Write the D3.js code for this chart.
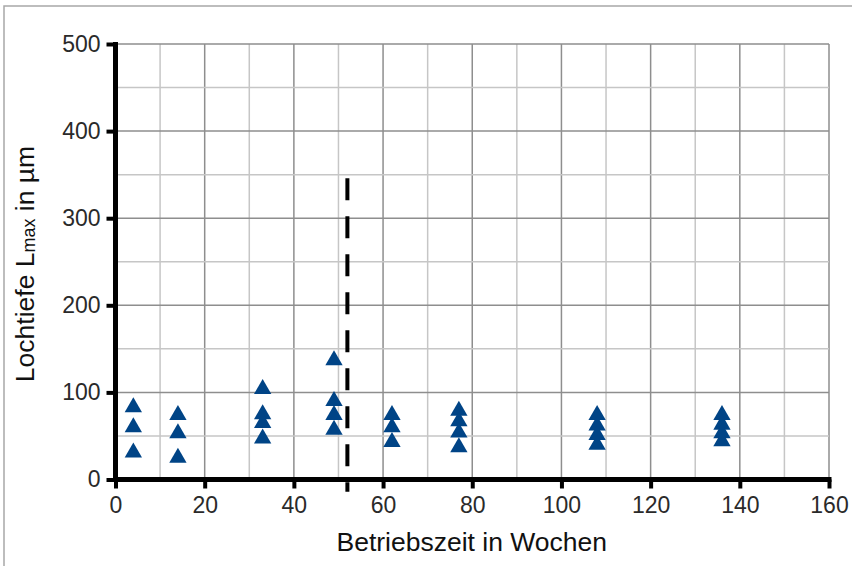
<!DOCTYPE html>
<html>
<head>
<meta charset="utf-8">
<script src="https://cdn.jsdelivr.net/npm/d3@7"></script>
<style>
  body { margin: 0; background: #fff; }
  svg { display: block; }
  .tick-label { font-family: "Liberation Sans", Arial, sans-serif; font-size: 23px; fill: #2a2a2a; }
  .axis-title { font-family: "Liberation Sans", Arial, sans-serif; font-size: 26.5px; fill: #111; }
</style>
</head>
<body>
<svg class="chart_svg" width="852" height="566"></svg>
<script>
// Betriebszeit (Wochen) und gemessene Lochtiefen je Messzeitpunkt
const weeks = [4, 14, 33, 49, 62, 77, 108, 136]
const depths = [
    [83, 60, 31],
    [74, 53, 25],
    [104, 75, 65, 47],
    [137, 90, 74, 57],
    [74, 60, 43],
    [79, 67, 54, 37],
    [74, 62, 51, 40],
    [74, 63, 53, 44]
]
const xTicks = [0, 20, 40, 60, 80, 100, 120, 140, 160]
const yTicks = [0, 100, 200, 300, 400, 500]
const markerWeek = 52
const markerRange = [-14, 346]

const chartWidth = 852
const chartHeight = 566
const margin = {top: 44, right: 23, bottom: 86.5, left: 115.5}
const width = chartWidth - margin.left - margin.right
const height = chartHeight - margin.top - margin.bottom

const svg = d3.select(".chart_svg")

// outer frame (only top and left edge visible in the original)
svg.append("path")
    .attr("d", `M4,566 V6 H852`)
    .attr("fill", "none")
    .attr("stroke", "#a8a8a8")
    .attr("stroke-width", 1.5)

const g = svg.append("g")
    .attr("transform", `translate(${margin.left}, ${margin.top})`)

const x = d3.scaleLinear().domain([0, 160]).range([0, width])
const y = d3.scaleLinear().domain([0, 500]).range([height, 0])

// grid lines
const xGrid = d3.range(10, 161, 10)
const yGrid = d3.range(50, 501, 50)

g.selectAll(".vgrid")
    .data(xGrid)
    .enter()
    .append("line")
    .attr("x1", d => x(d)).attr("x2", d => x(d))
    .attr("y1", 0).attr("y2", height)
    .attr("stroke", d => d % 20 === 0 ? "#8e8e8e" : "#c6c6c6")
    .attr("stroke-width", 1.5)

g.selectAll(".hgrid")
    .data(yGrid)
    .enter()
    .append("line")
    .attr("x1", 0).attr("x2", width)
    .attr("y1", d => y(d)).attr("y2", d => y(d))
    .attr("stroke", d => d % 100 === 0 ? "#8e8e8e" : "#c6c6c6")
    .attr("stroke-width", 1.5)

// dashed marker at 52 weeks
g.append("line")
    .attr("x1", x(markerWeek)).attr("x2", x(markerWeek))
    .attr("y1", y(markerRange[1])).attr("y2", y(markerRange[0]))
    .attr("stroke", "#000")
    .attr("stroke-width", 4)
    .attr("stroke-dasharray", "22,16")

// axes
const xAxis = d3.axisBottom(x).tickValues(xTicks).tickSize(9).tickSizeOuter(0)
const yAxis = d3.axisLeft(y).tickValues(yTicks).tickSize(9).tickSizeOuter(0)

const gx = g.append("g")
    .attr("transform", `translate(0, ${height})`)
    .call(xAxis)
gx.select(".domain")
    .attr("stroke", "#000").attr("stroke-width", 5)
    .attr("d", `M-2.5,0H${width + 2.5}`)
gx.selectAll(".tick line").attr("stroke", "#000").attr("stroke-width", 4)
gx.selectAll(".tick text")
    .attr("class", "tick-label")
    .attr("y", 17)
    .attr("dy", "0.71em")
    .attr("font-family", null).attr("font-size", null).attr("fill", null)

const gy = g.append("g").call(yAxis)
gy.select(".domain")
    .attr("stroke", "#000").attr("stroke-width", 5)
    .attr("d", `M0,${height + 2.5}V-2`)
gy.selectAll(".tick line").attr("stroke", "#000").attr("stroke-width", 4)
gy.selectAll(".tick text")
    .attr("class", "tick-label")
    .attr("x", -15)
    .attr("font-family", null).attr("font-size", null).attr("fill", null)

// data points
const points = []
weeks.forEach((w, i) => depths[i].forEach(v => points.push({week: w, depth: v})))

g.selectAll(".pt")
    .data(points)
    .enter()
    .append("path")
    .attr("d", d3.symbol().type(d3.symbolTriangle).size(130))
    .attr("transform", d => `translate(${x(d.week)}, ${y(d.depth)})`)
    .attr("fill", "#004486")

// axis titles
svg.append("text")
    .attr("class", "axis-title")
    .attr("x", margin.left + width / 2 - 0.5)
    .attr("y", 551)
    .attr("text-anchor", "middle")
    .text("Betriebszeit in Wochen")

const yTitle = svg.append("text")
    .attr("class", "axis-title")
    .attr("transform", `translate(34, ${margin.top + 220}) rotate(-90)`)
    .attr("text-anchor", "middle")
yTitle.append("tspan").text("Lochtiefe L")
yTitle.append("tspan").attr("font-size", "18px").attr("dy", 1).text("max")
yTitle.append("tspan").attr("dy", -1).text(" in µm")
</script>
</body>
</html>
